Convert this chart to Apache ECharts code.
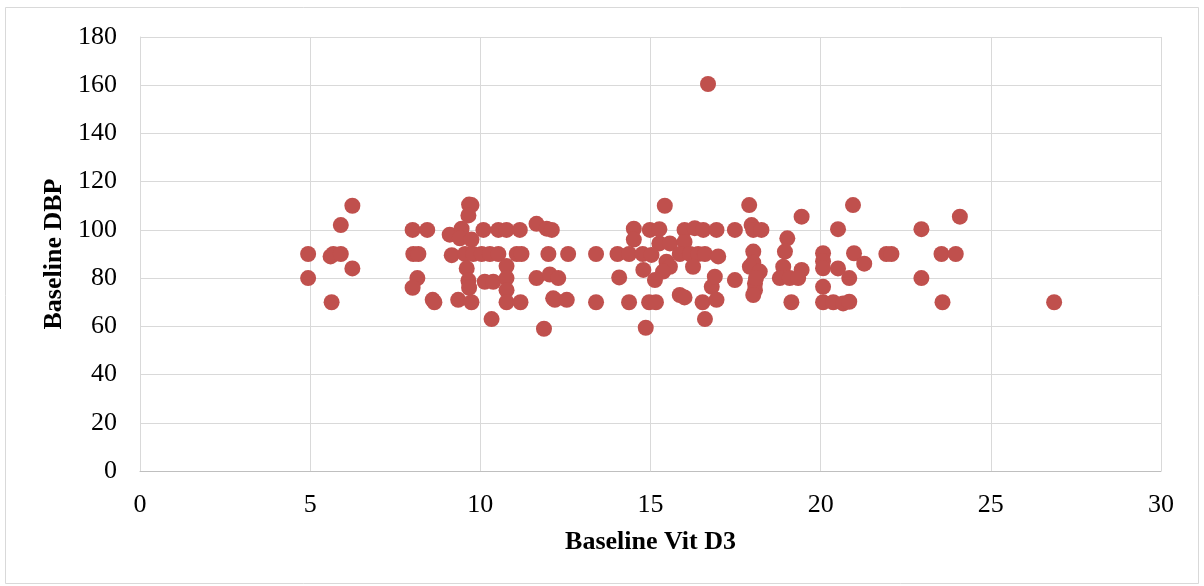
<!DOCTYPE html>
<html>
<head>
<meta charset="utf-8">
<title>Baseline Vit D3 vs Baseline DBP</title>
<script src="https://cdn.jsdelivr.net/npm/echarts@6/dist/echarts.min.js"></script>
<style>
  html, body { margin: 0; padding: 0; background: #fff; }
  #chart { width: 1204px; height: 586px; }
</style>
</head>
<body>
<div id="chart"></div>
<script>
// Baseline Vit D3 (x) and Baseline DBP (y)
var vitD3 = [
  4.94, 4.94, 5.6, 5.68, 5.9, 5.9, 5.63, 6.24, 6.24,
  8.01, 8.44, 8.03, 8.18, 8.15, 8.01, 8.6, 8.65, 9.35, 9.16, 9.1, 9.45,
  9.67, 9.74, 9.65, 9.4, 9.74, 9.55, 9.79, 10.04, 10.28, 10.53, 11.07, 11.21,
  12.0, 12.58, 9.6, 10.77, 9.65, 9.67, 10.13, 10.38, 10.77, 11.65, 12.04, 12.29,
  9.74, 10.77, 10.77, 11.18, 12.14, 12.19, 12.54, 10.33, 11.87,
  10.09, 10.53, 10.77, 11.16, 11.65, 11.95, 12.1,
  15.42, 14.51, 14.51, 14.98, 15.26, 15.26, 15.57, 16.0, 16.3, 16.55, 16.0,
  13.4, 14.03, 14.37, 14.77, 15.03, 15.47, 15.57, 15.37, 15.86, 16.16, 16.4, 16.6,
  16.25, 14.79, 14.08, 15.13, 13.4, 14.37, 14.96, 15.16, 15.86, 16.0, 16.53,
  14.86, 16.6, 16.8,
  17.9, 19.44, 16.94, 17.48, 17.97, 18.02, 18.26, 19.02, 16.99, 18.02, 18.02,
  17.92, 18.21, 18.95, 18.9, 19.44, 18.8, 19.09, 19.34, 20.07, 20.07, 20.07,
  16.89, 17.48, 18.07, 18.07, 18.1, 18.02, 16.94, 19.14, 20.07, 20.07, 20.37,
  20.95, 20.51, 22.96, 24.09, 20.98, 21.28, 21.93, 22.08, 23.55, 23.97,
  20.51, 20.84, 22.96, 20.66, 20.84, 23.58, 26.86, 16.69
];
var dbp = [
  90, 80, 89, 90, 90, 102, 70, 110, 84,
  100, 100, 90, 90, 80, 76, 71, 70, 71, 89.5, 98, 100.5,
  110.5, 110.3, 106, 96.5, 96, 90, 90, 90, 90, 90, 90, 90,
  90, 90, 84, 85, 79, 76, 78.5, 78.5, 80, 80, 81.5, 80,
  70, 75, 70, 70, 71.6, 71, 71, 63, 59,
  100, 100, 100, 100, 102.5, 100.5, 100,
  110, 100.5, 96, 100, 100.3, 94.4, 94.4, 100, 100.7, 100, 95,
  90, 90, 90, 90, 89.6, 86.8, 84.7, 82.7, 90, 90, 90, 90,
  84.7, 83.4, 80.3, 79.2, 70, 70, 70, 70, 73, 72, 70,
  59.4, 63, 76.4,
  110.3, 105.5, 100, 100, 102, 100, 100, 96.5, 89, 91, 86.4,
  84.7, 82.7, 91, 84.7, 83.4, 80, 80, 80, 90.3, 87, 84.1,
  80.6, 79.2, 77.8, 75, 80, 73, 71, 70, 76.4, 70, 70,
  110.3, 100.3, 100.3, 105.5, 90.3, 86, 90, 90, 90, 90,
  84, 80, 80, 69.5, 70.2, 70, 70, 160.5
];
var xTicks = [0, 5, 10, 15, 20, 25, 30];
var yTicks = [0, 20, 40, 60, 80, 100, 120, 140, 160, 180];

var points = vitD3.map(function (x, i) { return [x, dbp[i]]; });

var font = "'Liberation Serif', 'Times New Roman', serif";
var myChart = echarts.init(document.getElementById('chart'));
var option = {
  backgroundColor: '#fff',
  animation: false,
  grid: { left: 140, right: 43, top: 37, bottom: 115 },
  // light frame round the whole chart
  graphic: [{
    type: 'rect',
    shape: { x: 5.5, y: 7.5, width: 1193, height: 576 },
    style: { fill: 'none', stroke: '#d9d9d9', lineWidth: 1 },
    silent: true
  }],
  xAxis: {
    type: 'value',
    min: xTicks[0],
    max: xTicks[xTicks.length - 1],
    interval: 5,
    name: 'Baseline Vit D3',
    nameLocation: 'middle',
    nameGap: 58,
    nameTextStyle: { fontFamily: font, fontSize: 26, fontWeight: 'bold', color: '#000' },
    axisLine: { show: true, lineStyle: { color: '#bfbfbf', width: 1 } },
    axisTick: { show: false },
    axisLabel: { fontFamily: font, fontSize: 26, color: '#000', margin: 21 },
    splitLine: { show: true, lineStyle: { color: '#d9d9d9', width: 1 } }
  },
  yAxis: {
    type: 'value',
    min: yTicks[0],
    max: yTicks[yTicks.length - 1],
    interval: 20,
    name: 'Baseline DBP',
    nameLocation: 'middle',
    nameGap: 65,
    nameTextStyle: { fontFamily: font, fontSize: 26, fontWeight: 'bold', color: '#000' },
    axisLine: { show: true, lineStyle: { color: '#d9d9d9', width: 1 } },
    axisTick: { show: false },
    axisLabel: { fontFamily: font, fontSize: 26, color: '#000', margin: 23 },
    splitLine: { show: true, lineStyle: { color: '#d9d9d9', width: 1 } }
  },
  series: [{
    type: 'scatter',
    data: points,
    symbol: 'circle',
    symbolSize: 16,
    itemStyle: { color: '#c0504d', opacity: 1 }
  }]
};
myChart.setOption(option);
</script>
</body>
</html>
